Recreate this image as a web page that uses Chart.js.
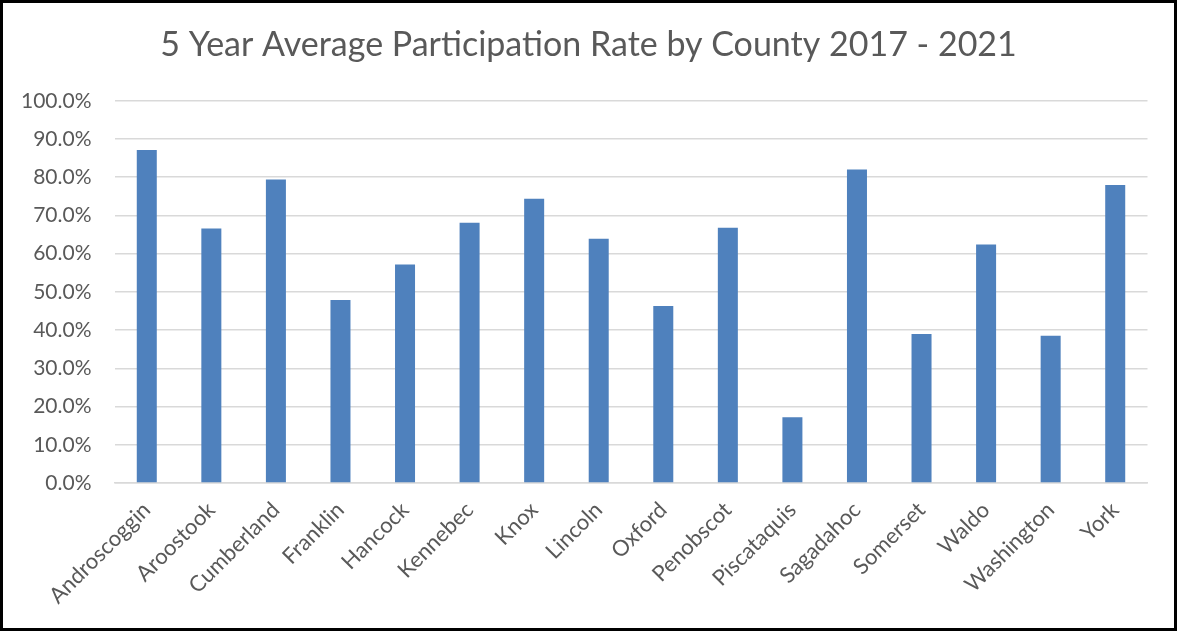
<!DOCTYPE html>
<html>
<head>
<meta charset="utf-8">
<script src="https://cdn.jsdelivr.net/npm/chart.js@4.4.1/dist/chart.umd.min.js"></script>
<style>
html,body{margin:0;padding:0;background:#fff;}
#wrap{position:relative;width:1177px;height:631px;box-sizing:border-box;border:3px solid #000;}
canvas{display:block;}
</style>
</head>
<body>
<div id="wrap"><canvas id="c"></canvas></div>
<script>
const chartTitle = '5 Year Average Participation Rate by County 2017 - 2021';
const counties = ['Androscoggin','Aroostook','Cumberland','Franklin','Hancock','Kennebec','Knox','Lincoln','Oxford','Penobscot','Piscataquis','Sagadahoc','Somerset','Waldo','Washington','York'];
const participationRate = [87.1,66.6,79.4,47.9,57.2,68.1,74.4,63.9,46.3,66.8,17.2,82.0,39.0,62.4,38.5,78.0];
const yMin = 0, yMax = 100, yStep = 10;

const textColor = '#595959';
const fontFamily = 'Lato, "Open Sans", sans-serif';

new Chart(document.getElementById('c'), {
  type: 'bar',
  data: {
    labels: counties,
    datasets: [{
      data: participationRate,
      backgroundColor: '#4f81bd',
      borderWidth: 0,
      barPercentage: 0.31,
      categoryPercentage: 1.0
    }]
  },
  options: {
    responsive: true,
    maintainAspectRatio: false,
    animation: false,
    layout: { padding: 0 },
    plugins: {
      legend: { display: false },
      tooltip: { enabled: false },
      title: {
        display: true,
        text: chartTitle,
        color: textColor,
        font: { family: fontFamily, size: 34, weight: 'normal' },
        padding: { top: 22, bottom: 35 }
      }
    },
    scales: {
      x: {
        grid: { display: false, drawTicks: false },
        border: { display: true, color: '#d9d9d9', width: 1.5 },
        ticks: {
          color: textColor,
          font: { family: fontFamily, size: 22 },
          minRotation: 45,
          maxRotation: 45,
          padding: 14,
          autoSkip: false
        },
        afterFit: s => { s.height = 145; }
      },
      y: {
        min: yMin,
        max: yMax,
        grid: { color: '#d9d9d9', lineWidth: 1.5, drawTicks: false },
        border: { display: false },
        ticks: {
          stepSize: yStep,
          color: textColor,
          font: { family: fontFamily, size: 21 },
          padding: 23,
          callback: v => v.toFixed(1) + '%'
        },
        afterFit: s => { s.width = 111.5; }
      },
      spacer: {
        type: 'linear',
        position: 'right',
        display: true,
        grid: { display: false, drawTicks: false },
        border: { display: false },
        ticks: { display: false },
        afterFit: s => { s.width = 26.5; }
      }
    }
  }
});
</script>
</body>
</html>
